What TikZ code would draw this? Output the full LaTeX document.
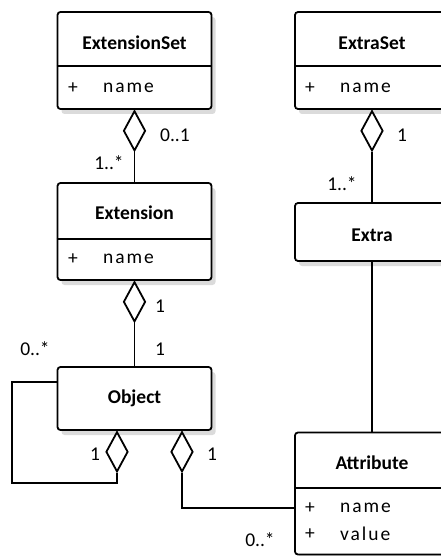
\documentclass[tikz,border=0pt]{standalone}
\usepackage{fontspec}
\setmainfont{Carlito}
\newfontfamily\attrfont[LetterSpace=10]{Carlito}
\usetikzlibrary{shapes.geometric,shadows}
\tikzset{
  umlbox/.style={draw, line width=1.8pt, rounded corners=3pt, fill=white,
    minimum width=154pt, inner sep=0pt,
    drop shadow={shadow xshift=4pt, shadow yshift=-5pt, fill=black!14, opacity=1}},
  title/.style={font=\fontsize{19.5}{20}\selectfont\bfseries, inner sep=0pt},
  attr/.style={font=\fontsize{19.5}{20}\selectfont\attrfont, inner sep=0pt, anchor=west},
  plus/.style={font=\fontsize{19.5}{20}\selectfont, inner sep=0pt},
  lbl/.style={font=\fontsize{19.5}{20}\selectfont, inner sep=0pt},
  agg/.style={shape=diamond, draw, fill=white, line width=1.8pt, inner sep=0pt,
    minimum width=22pt, minimum height=40pt, anchor=north},
  conn/.style={line width=1.8pt},
  divider/.style={line width=1.8pt}
}
\begin{document}
\begin{tikzpicture}[x=1pt,y=-1pt]
\useasboundingbox (0,0) rectangle (441,556);
\clip (0,0) rectangle (441,556);
% boxes
\node[umlbox, minimum height=97pt] (ES) at (134.5,60.5) {};
\node[umlbox, minimum height=97pt] (XS) at (372,60.5) {};
\node[umlbox, minimum height=97pt] (EX) at (134.5,231.5) {};
\node[umlbox, minimum height=58pt] (XT) at (372,232) {};
\node[umlbox, minimum height=63pt] (OB) at (134.5,398.5) {};
\node[umlbox, minimum height=122pt] (AT) at (372,493.5) {};
% dividers
\draw[divider] (ES.west |- 0,66) -- (ES.east |- 0,66);
\draw[divider] (XS.west |- 0,66) -- (XS.east |- 0,66);
\draw[divider] (EX.west |- 0,239) -- (EX.east |- 0,239);
\draw[divider] (AT.west |- 0,488) -- (AT.east |- 0,488);
% titles
\node[title] (tES) at (134.5,43) {ExtensionSet};
\node[title] (tXS) at (372,43) {ExtraSet};
\node[title] (tEX) at (134.5,213) {Extension};
\node[title] (tXT) at (372,235) {Extra};
\node[title] (tOB) at (134.5,398) {Object};
\node[title] (tAT) at (372,463) {Attribute};
% attributes
\node[plus] (pES) at (73,88) {+};
\node[attr] (aES) at (103,88) {name};
\node[plus] (pXS) at (310,88) {+};
\node[attr] (aXS) at (340,88) {name};
\node[plus] (pEX) at (73,259) {+};
\node[attr] (aEX) at (103,259) {name};
\node[plus] (pAT1) at (310,508) {+};
\node[attr] (aAT1) at (340,508) {name};
\node[plus] (pAT2) at (310,534) {+};
\node[attr] (aAT2) at (340,534) {value};
% diamonds
\node[agg] (dES) at (ES.south) {};
\node[agg] (dXS) at (XS.south) {};
\node[agg] (dEX) at (EX.south) {};
\node[agg] (dL) at ([xshift=-17.5pt]OB.south) {};
\node[agg] (dR) at ([xshift=47.5pt]OB.south) {};
% connectors
\draw[conn] (dES.south) -- (EX.north);
\draw[conn] (dXS.south) -- (XT.north);
\draw[conn] (dEX.south) -- (OB.north);
\draw[conn] (XT.south) -- (AT.north);
\draw[conn] ([yshift=16.5pt]OB.west) -| (12,483) -| (dL.south);
\draw[conn] (dR.south) |- (AT.west |- 0,508);
% multiplicities
\node[lbl] (m1) at (175,135) {0..1};
\node[lbl] (m2) at (109,163) {1..*};
\node[lbl] (m3) at (402,135) {1};
\node[lbl] (m4) at (342,184) {1..*};
\node[lbl] (m5) at (160,306) {1};
\node[lbl] (m6) at (160,349) {1};
\node[lbl] (m7) at (35,349) {0..*};
\node[lbl] (m8) at (95,454) {1};
\node[lbl] (m9) at (212,454) {1};
\node[lbl] (m10) at (260,540) {0..*};
\end{tikzpicture}
\end{document}
